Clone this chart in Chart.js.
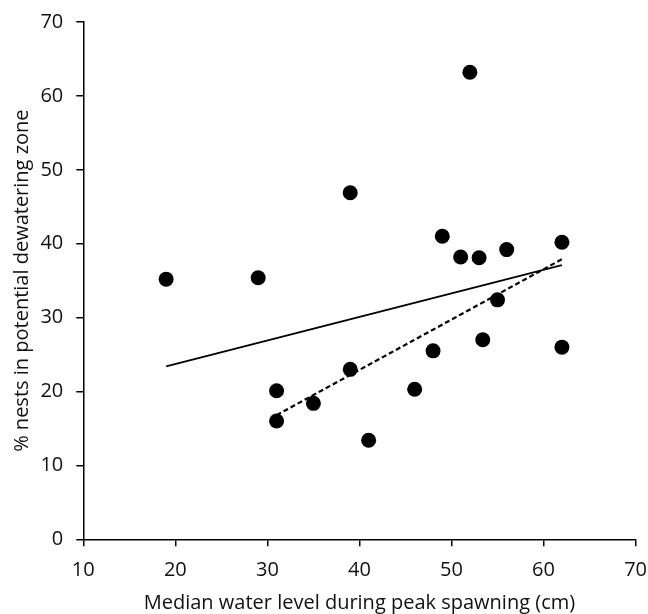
<!DOCTYPE html>
<html>
<head>
<meta charset="utf-8">
<script src="https://cdn.jsdelivr.net/npm/chart.js@4.4.1/dist/chart.umd.min.js"></script>
<style>
    html, body { margin: 0; padding: 0; background: #fff; }
    #wrap { width: 648px; height: 614px; position: relative; }
</style>
</head>
<body>
<div id="wrap"><canvas id="scatterChart"></canvas></div>
<script>
// data
const waterLevel = [19, 29, 31, 31, 35, 39, 39, 41, 46, 48, 49, 51, 52, 53, 53.4, 55, 56, 62, 62];
const nestsPct   = [35.2, 35.4, 20.1, 16.0, 18.4, 46.9, 23.0, 13.4, 20.3, 25.5, 41.0, 38.2, 63.2, 38.1, 27.0, 32.4, 39.2, 40.2, 26.0];

// trend lines (end points)
const allFitX = [19, 62];
const allFitY = [23.4, 37.1];
const subsetFitX = [31, 62];
const subsetFitY = [16.8, 37.9];

const xTicks = [10, 20, 30, 40, 50, 60, 70];
const yTicks = [0, 10, 20, 30, 40, 50, 60, 70];

const xTitle = 'Median water level during peak spawning (cm)';
const yTitle = '% nests in potential dewatering zone';

const FONT = '"Open Sans", sans-serif';
const TEXT = '#111';

function toPoints(xs, ys) {
    return xs.map((x, i) => ({ x: x, y: ys[i] }));
}

document.addEventListener('DOMContentLoaded', function() {
    const ctx = document.getElementById('scatterChart');

    new Chart(ctx, {
        type: 'scatter',
        data: {
            datasets: [{
                label: 'Nests',
                data: toPoints(waterLevel, nestsPct),
                backgroundColor: '#000',
                borderWidth: 0,
                pointRadius: 7.5,
                order: 2
            }, {
                label: 'All years',
                data: toPoints(allFitX, allFitY),
                showLine: true,
                borderColor: '#000',
                borderWidth: 1.8,
                pointRadius: 0,
                fill: false,
                order: 1
            }, {
                label: 'Subset',
                data: toPoints(subsetFitX, subsetFitY),
                showLine: true,
                borderColor: '#000',
                borderWidth: 2.2,
                borderDash: [5, 3],
                pointRadius: 0,
                fill: false,
                order: 1
            }]
        },
        options: {
            responsive: true,
            maintainAspectRatio: false,
            animation: false,
            layout: {
                padding: { left: 0, right: 12.3, top: 21.7, bottom: 0 }
            },
            plugins: {
                legend: { display: false },
                tooltip: { enabled: false }
            },
            scales: {
                x: {
                    type: 'linear',
                    min: 10,
                    max: 70,
                    afterBuildTicks: axis => { axis.ticks = xTicks.map(v => ({ value: v })); },
                    afterFit: axis => { axis.height = 74.7; },
                    grid: {
                        drawOnChartArea: false,
                        tickLength: 7,
                        color: '#000',
                        lineWidth: 1.5
                    },
                    border: { color: '#000', width: 1.5 },
                    ticks: {
                        color: TEXT,
                        // tall line box pushes the labels down without widening side padding
                        font: { family: FONT, size: 20, lineHeight: 2.3 },
                        padding: 1,
                        maxRotation: 0
                    },
                    title: {
                        display: true,
                        text: xTitle,
                        color: TEXT,
                        font: { family: FONT, size: 20, lineHeight: 1 },
                        padding: { top: 0, bottom: 1 }
                    }
                },
                y: {
                    type: 'linear',
                    min: 0,
                    max: 70,
                    afterBuildTicks: axis => { axis.ticks = yTicks.map(v => ({ value: v })); },
                    afterFit: axis => { axis.width = 83.3; },
                    grid: {
                        drawOnChartArea: false,
                        tickLength: 7,
                        color: '#000',
                        lineWidth: 1.5
                    },
                    border: { color: '#000', width: 1.5 },
                    ticks: {
                        color: TEXT,
                        font: { family: FONT, size: 20, lineHeight: 0.9 },
                        padding: 13
                    },
                    title: {
                        display: true,
                        text: yTitle,
                        color: TEXT,
                        font: { family: FONT, size: 20, lineHeight: 1 },
                        padding: { top: 12, bottom: 0 }
                    }
                }
            }
        }
    });
});
</script>
</body>
</html>
